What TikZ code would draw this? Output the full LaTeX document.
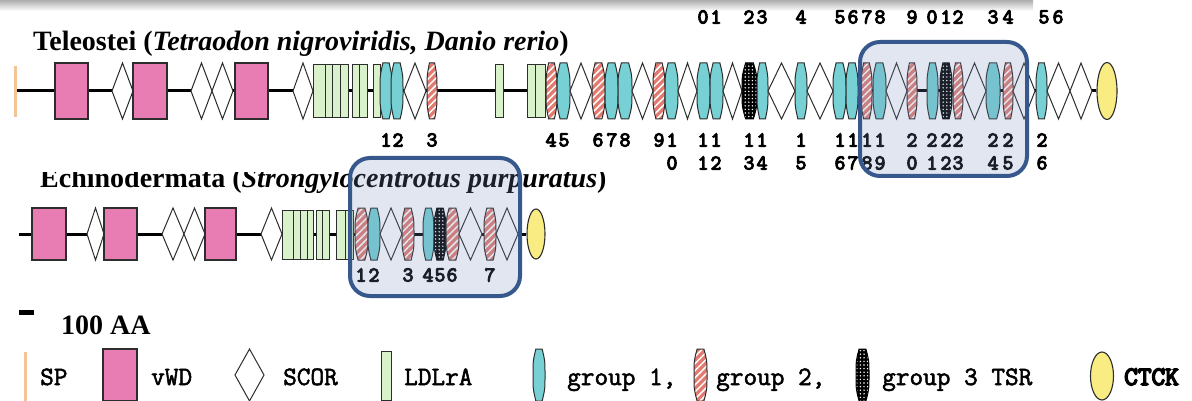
\documentclass[tikz,border=0pt]{standalone}
\usepackage{fontspec}
\setmainfont{Liberation Serif}
\newfontfamily\numfont[FakeBold=5]{Latin Modern Mono}
\newfontfamily\legfont[FakeBold=2]{Latin Modern Mono}
\newfontfamily\legboldfont[FakeBold=6]{Latin Modern Mono}
\usetikzlibrary{patterns.meta,shapes.geometric}
\pgfdeclarelayer{background}
\pgfsetlayers{background,main}

\definecolor{vwdpink}{RGB}{231,125,178}
\definecolor{gonecol}{RGB}{118,208,212}
\definecolor{gtwocol}{RGB}{226,122,112}
\definecolor{ldlgreen}{RGB}{218,242,204}
\definecolor{ctckyel}{RGB}{248,236,130}
\definecolor{sporange}{RGB}{244,196,150}
\definecolor{outl}{RGB}{45,45,45}
\definecolor{hlstroke}{RGB}{55,88,140}
\definecolor{hlfill}{RGB}{120,145,190}

\tikzset{
  backbone/.style={line width=3pt, black},
  spline/.style={line width=3pt, sporange},
  vwdbox/.style={draw=outl, line width=1.1pt, fill=vwdpink},
  scorshape/.style={draw=outl, line width=1pt, fill=white},
  ldlbox/.style={draw=outl, line width=1pt, fill=ldlgreen},
  gonest/.style={draw=outl, line width=1pt, fill=gonecol},
  gtwost/.style={preaction={fill=gtwocol}, pattern={Lines[angle=45,distance=5pt,line width=1.5pt]}, pattern color=white, draw=outl, line width=1pt},
  gthreest/.style={preaction={fill=black}, pattern={Dots[radius=0.8pt,distance=3.6pt]}, pattern color=white, draw=black, line width=1pt},
  ctckst/.style={ellipse, draw=outl, line width=1.1pt, fill=ctckyel, inner sep=0pt},
  title/.style={font=\bfseries\fontsize{28}{30}\selectfont, inner sep=0pt},
  num/.style={font=\numfont\fontsize{21}{22}\selectfont, inner sep=0pt},
  legtext/.style={font=\legfont\fontsize{26.5}{28}\selectfont, inner sep=0pt, anchor=base west},
  highlight/.style={draw=hlstroke, line width=4pt, rounded corners=20pt, fill=hlfill, fill opacity=0.22},
}

% domain drawing helpers; the current row is set by \rowY (centre) and \rowH (half height)
\newcommand\dvwd[2]{\path[vwdbox] (#1,\rowY-\rowH) rectangle (#2,\rowY+\rowH);}
\newcommand\dldl[2]{\path[ldlbox] (#1,\rowY-\rowH+2) rectangle (#2,\rowY+\rowH-1);}
\newcommand\dscor[2]{\path[scorshape] (#1,\rowY) -- ({(#1+#2)/2},\rowY-\rowH) -- (#2,\rowY) -- ({(#1+#2)/2},\rowY+\rowH) -- cycle;}
\newcommand\spind[3]{%
  \pgfmathsetmacro\spA{#1}%
  \pgfmathsetmacro\spB{#2}%
  \pgfmathsetmacro\spM{(#1+#2)/2}%
  \pgfmathsetmacro\spQ{0.26*(#2-#1)}%
  \path[#3] (\spM-\spQ,\rowY-\rowH) -- (\spM+\spQ,\rowY-\rowH)
    .. controls (\spB,\rowY-0.55*\rowH) .. (\spB,\rowY)
    .. controls (\spB,\rowY+0.55*\rowH) .. (\spM+\spQ,\rowY+\rowH)
    -- (\spM-\spQ,\rowY+\rowH)
    .. controls (\spA,\rowY+0.55*\rowH) .. (\spA,\rowY)
    .. controls (\spA,\rowY-0.55*\rowH) .. (\spM-\spQ,\rowY-\rowH) -- cycle;}
\newcommand\gone[2]{\spind{#1}{#2}{gonest}}
\newcommand\gtwo[2]{\spind{#1}{#2}{gtwost}}
\newcommand\gthree[2]{\spind{#1}{#2}{gthreest}}
\newcounter{labidx}
\newcommand\dg[3]{\stepcounter{labidx}\node[num] (lab\arabic{labidx}) at (#1,#2) {#3};}

\begin{document}
\begin{tikzpicture}[x=1pt,y=-1pt]
\useasboundingbox (0,0) rectangle (1192,401);
\begin{pgfonlayer}{background}
  \fill[white] (0,0) rectangle (1192,401);
\end{pgfonlayer}

% shadow of the panel edge along the top
\shade[top color=black!32, bottom color=white] (0,0) rectangle (1033,11);

% ---------------- Teleostei ----------------
\node[title, anchor=base west] (tTele) at (33,51)
  {Teleostei (\textit{Tetraodon nigroviridis, Danio rerio})};

\def\rowY{91}\def\rowH{28}
\coordinate (r1s) at (17,91);
\node[ctckst, minimum width=20pt, minimum height=57pt] (r1c) at (1107,91) {};
\begin{pgfonlayer}{background}
  \draw[backbone] (r1s) -- (r1c.west);
\end{pgfonlayer}
\draw[spline] (15,66) -- (15,117);

\dvwd{55}{88}
\dscor{112}{133}
\dvwd{133}{167}
\dscor{191}{212}\dscor{212}{233}
\dvwd{235}{268}
\dscor{293}{313}
\dldl{313}{325}\dldl{325}{332}\dldl{332}{340}\dldl{340}{348}
\dldl{352}{359}\dldl{359}{367}
\dldl{373}{380}
\gone{380}{392}\gone{391}{403}
\dscor{404}{426}
\gtwo{427}{437}
\dldl{495}{503}
\dldl{527}{535}\dldl{535}{545}
\gtwo{546}{557}
\gone{557}{570}
\dscor{570}{592}
\gtwo{592}{605}
\gone{605}{618}\gone{618}{632}
\dscor{632}{653}
\gtwo{653}{665}
\gone{665}{678}
\dscor{678}{697}
\gone{697}{710}\gone{710}{723}
\dscor{723}{742}
\gthree{742}{757}
\gone{757}{768}
\dscor{768}{795}
\gone{795}{807}
\dscor{807}{833}
\gone{833}{846}\gone{846}{858}
\gtwo{861}{872}
\gone{873}{886}
\dscor{886}{907}
\gtwo{907}{917}
\gone{927}{938}
\gthree{940}{952}
\gtwo{953}{963}
\dscor{963}{986}
\gone{986}{1000}
\gtwo{1003}{1013}
\dscor{1013}{1035}
\gone{1036}{1047}
\dscor{1047}{1070}\dscor{1070}{1092}

% repeat numbers above the row
\dg{703}{17}{0}\dg{716}{17}{1}\dg{749}{17}{2}\dg{762}{17}{3}\dg{801}{17}{4}
\dg{840}{17}{5}\dg{853}{17}{6}\dg{867}{17}{7}\dg{880}{17}{8}\dg{912}{17}{9}
\dg{932}{17}{0}\dg{946}{17}{1}\dg{958}{17}{2}\dg{993}{17}{3}\dg{1008}{17}{4}
\dg{1044}{17}{5}\dg{1058}{17}{6}

% repeat numbers below the row (two lines)
\dg{386}{140}{1}\dg{398}{140}{2}\dg{432}{140}{3}
\dg{551}{140}{4}\dg{564}{140}{5}
\dg{598}{140}{6}\dg{612}{140}{7}\dg{625}{140}{8}
\dg{659}{140}{9}\dg{672}{140}{1}\dg{672}{163}{0}
\dg{703}{140}{1}\dg{716}{140}{1}\dg{703}{163}{1}\dg{716}{163}{2}
\dg{749}{140}{1}\dg{762}{140}{1}\dg{749}{163}{3}\dg{762}{163}{4}
\dg{801}{140}{1}\dg{801}{163}{5}
\dg{840}{140}{1}\dg{853}{140}{1}\dg{840}{163}{6}\dg{853}{163}{7}
\dg{867}{140}{1}\dg{880}{140}{1}\dg{867}{163}{8}\dg{880}{163}{9}
\dg{912}{140}{2}\dg{912}{163}{0}
\dg{932}{140}{2}\dg{946}{140}{2}\dg{958}{140}{2}
\dg{932}{163}{1}\dg{946}{163}{2}\dg{958}{163}{3}
\dg{993}{140}{2}\dg{1008}{140}{2}\dg{993}{163}{4}\dg{1008}{163}{5}
\dg{1042}{140}{2}\dg{1042}{163}{6}

% ---------------- Echinodermata ----------------
\begin{scope}
  \clip (0,173) rectangle (700,200);
  \node[title, anchor=base west] (tEchi) at (40,187)
    {Echinodermata (\textit{Strongylocentrotus purpuratus})};
\end{scope}

\def\rowY{234}\def\rowH{26}
\coordinate (r2s) at (19,234);
\node[ctckst, minimum width=18pt, minimum height=50pt] (r2c) at (536,234) {};
\begin{pgfonlayer}{background}
  \draw[backbone] (r2s) -- (r2c.west);
\end{pgfonlayer}

\dvwd{32}{66}
\dscor{87}{104}
\dvwd{104}{137}
\dscor{162}{184}\dscor{184}{205}
\dvwd{205}{236}
\dscor{261}{282}
\dldl{282}{293}\dldl{293}{300}\dldl{300}{307}\dldl{307}{313}
\dldl{316}{322}\dldl{322}{329}
\dldl{336}{345}\dldl{345}{353}
\gtwo{355}{368}
\gone{368}{380}
\dscor{380}{402}
\gtwo{402}{414}
\gone{423}{434}
\gthree{434}{446}
\gtwo{446}{459}
\dscor{459}{482}
\gtwo{484}{496}
\dscor{496}{518}

\dg{361}{275}{1}\dg{374}{275}{2}
\dg{408}{275}{3}\dg{428}{275}{4}\dg{440}{275}{5}\dg{452}{275}{6}
\dg{490}{275}{7}

% highlighted regions
\path[highlight] (860,42) rectangle (1027,176);
\path[highlight] (350,158) rectangle (520,296);

% ---------------- scale and legend ----------------
\coordinate (sbA) at (19,312);
\coordinate (sbB) at (34,312);
\draw[line width=5pt] (sbA) -- (sbB);
\node[title, anchor=base west] (scaleTxt) at (61,334) {100 AA};

\def\rowY{375}\def\rowH{26}
\draw[spline] (25,352) -- (25,401);
\node[legtext] (lSP) at (40,385) {SP};
\dvwd{103}{137}
\node[legtext] (lVWD) at (151,385) {vWD};
\dscor{235}{264}
\node[legtext] (lSCOR) at (283,385) {SCOR};
\dldl{381}{391}
\node[legtext] (lLDL) at (404,385) {LDLrA};
\gone{533}{545}
\node[legtext] (lG1) at (567,385) {group 1,};
\gtwo{694}{707}
\node[legtext] (lG2) at (716,385) {group 2,};
\gthree{856}{869}
\node[legtext] (lG3) at (882,385) {group 3 TSR};
\node[ctckst, minimum width=23pt, minimum height=48pt] (lCT) at (1102,376) {};
\node[legtext, font=\legboldfont\fontsize{26.5}{28}\selectfont] (lCTCK) at (1124,385) {CTCK};
\end{tikzpicture}
\end{document}
